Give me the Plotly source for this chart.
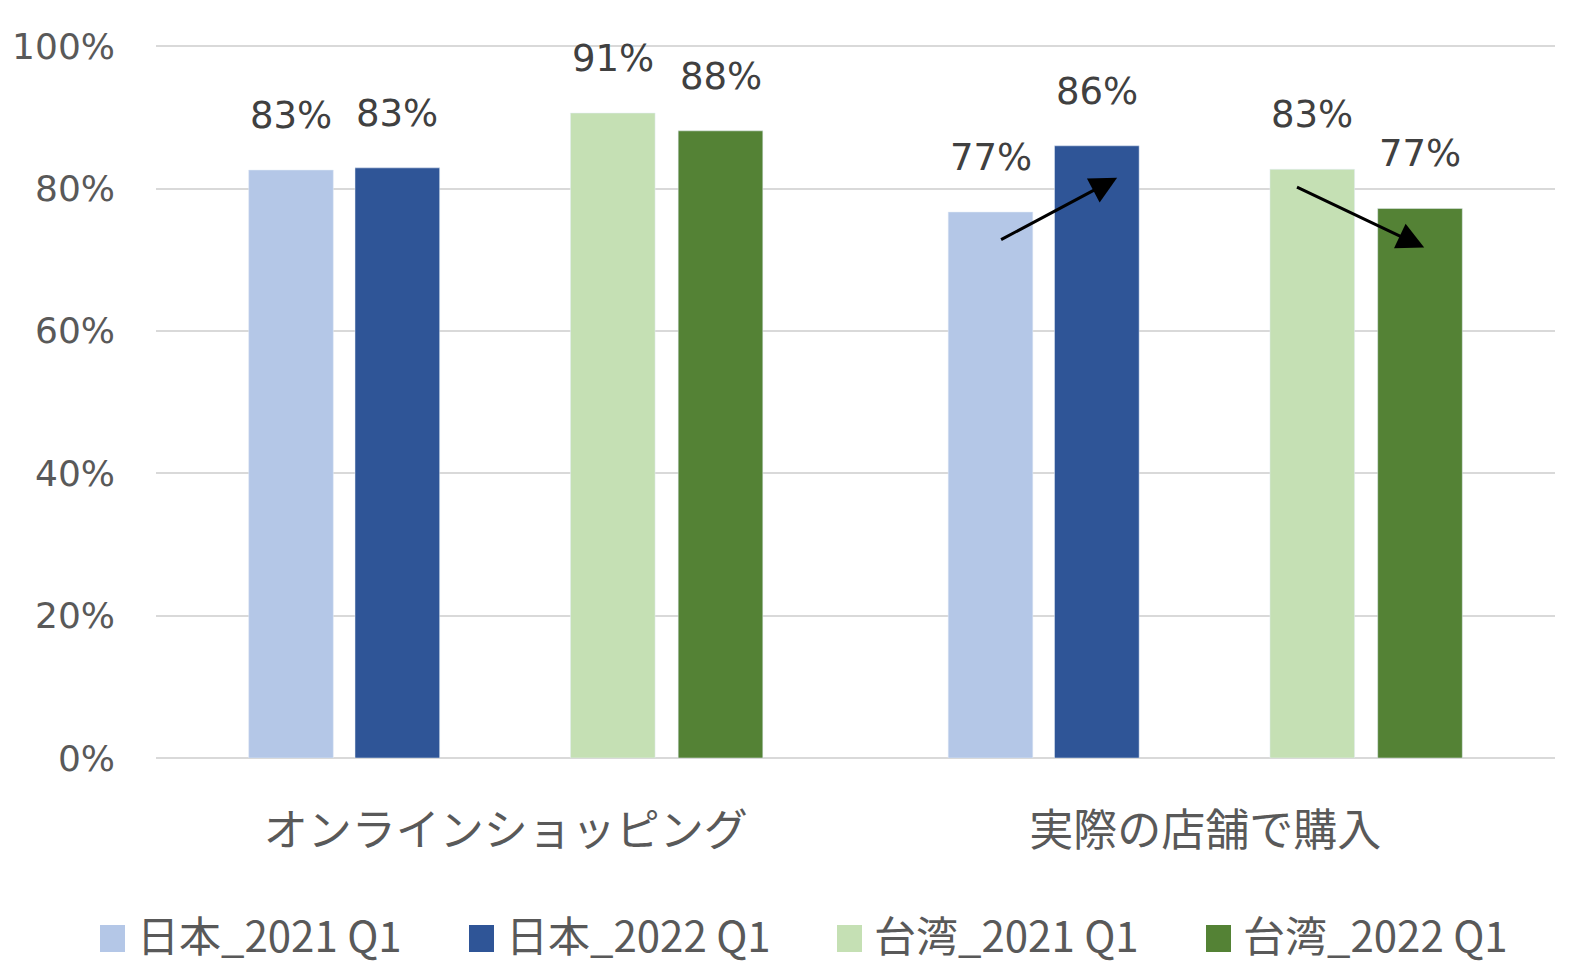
import plotly.graph_objects as go

categories = ["オンラインショッピング", "実際の店舗で購入"]
series_names = ["日本_2021 Q1", "日本_2022 Q1", "台湾_2021 Q1", "台湾_2022 Q1"]
jp_2021 = [82.6, 76.7]
jp_2022 = [82.9, 86.0]
tw_2021 = [90.6, 82.7]
tw_2022 = [88.1, 77.2]
values = [jp_2021, jp_2022, tw_2021, tw_2022]
colors = ["#B4C7E7", "#2F5597", "#C5E0B4", "#548235"]
centers = [-0.307, -0.155, 0.153, 0.307]  # bar centre offsets within a category
bar_w = 0.121

# arrows: (tail x, tail y, head x, head y) in data units
arrows = [(0.706, 72.7, 0.874, 81.5), (1.129, 80.3, 1.313, 71.7)]

# manual legend key left edges (figure pixels)
legend_x_px = [92, 461, 829, 1198]

num_font = "DejaVu Sans"
cjk_font = "Noto Sans CJK JP"

# page has an 8px body margin, so the figure is sized to fit the window
W, H = 1570, 955
ML, MR, MT, MB = 148, 23, 36, 205
PW, PH = W - ML - MR, H - MT - MB

fig = go.Figure()
annotations = []
shapes = []
for name, vals, col, c in zip(series_names, values, colors, centers):
    fig.add_trace(go.Bar(
        x=categories, y=vals, name=name, marker_color=col,
        width=bar_w, offset=c - bar_w / 2, showlegend=False,
    ))
    for i, v in enumerate(vals):
        annotations.append(dict(
            x=i + c, y=v, xref="x", yref="y", text=f"{round(v)}%",
            showarrow=False, yanchor="bottom", yshift=31,
            font=dict(family=num_font, size=37, color="#404040"),
        ))

for tx, ty, hx, hy in arrows:
    annotations.append(dict(
        x=hx, y=hy, ax=tx, ay=ty, xref="x", yref="y", axref="x", ayref="y",
        showarrow=True, arrowhead=2, arrowsize=1.8, arrowwidth=3,
        arrowcolor="#000000", text="",
    ))

# manual legend (large square keys)
key = 25
key_top, key_bot = 917, 944
text_mid = 925
for name, col, lx in zip(series_names, colors, legend_x_px):
    shapes.append(dict(type="rect", xref="paper", yref="paper",
                       x0=(lx - ML) / PW, x1=(lx + key - ML) / PW,
                       y0=(H - MB - key_bot) / PH, y1=(H - MB - key_top) / PH,
                       fillcolor=col, line=dict(width=0)))
    annotations.append(dict(
        x=(lx + key + 10 - ML) / PW, y=(H - MB - text_mid) / PH,
        xref="paper", yref="paper", xanchor="left", yanchor="middle",
        text=name, showarrow=False,
        font=dict(family=cjk_font, size=42, color="#595959"),
    ))

fig.update_layout(
    barmode="overlay",
    width=W, height=H,
    margin=dict(l=ML, r=MR, t=MT, b=MB, autoexpand=False),
    plot_bgcolor="white", paper_bgcolor="white",
    annotations=annotations,
    shapes=shapes,
    showlegend=False,
    xaxis=dict(
        type="category", range=[-0.5, 1.5], automargin=False,
        showgrid=False, showline=False, ticks="",
        tickfont=dict(family=cjk_font, size=44, color="#595959"),
        ticklabelstandoff=43,
    ),
    yaxis=dict(
        range=[0, 100.3], tickvals=[0, 20, 40, 60, 80, 100], automargin=False,
        ticktext=["0%", "20%", "40%", "60%", "80%", "100%"],
        showgrid=True, gridcolor="#D9D9D9", gridwidth=2,
        zeroline=True, zerolinecolor="#D9D9D9", zerolinewidth=2,
        showline=False, ticks="",
        tickfont=dict(family=num_font, size=36, color="#595959"),
        ticklabelstandoff=40,
    ),
)

fig.write_html("out.html")
